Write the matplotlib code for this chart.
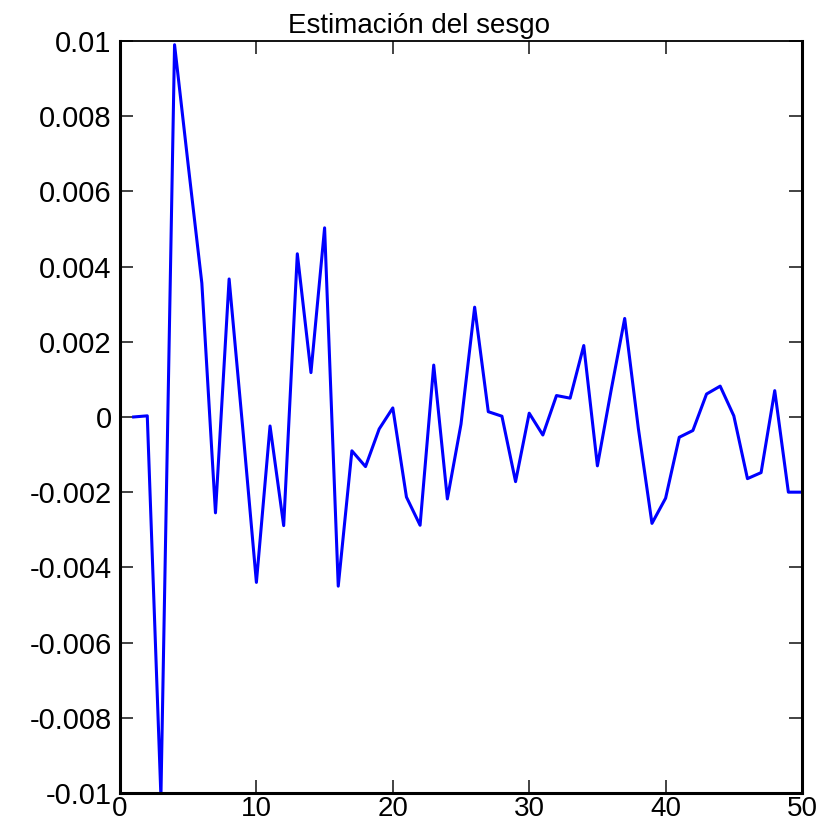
import matplotlib
matplotlib.use('Agg')
import matplotlib.pyplot as plt
from matplotlib.ticker import FixedLocator, FixedFormatter

plt.rcParams['font.family'] = ['Liberation Sans', 'DejaVu Sans']

# datos
k = list(range(1, 51))
sesgo = [0.0, 0.00003, -0.0101, 0.0099, 0.0067, 0.00356, -0.00255, 0.00367, -0.0003, -0.0044,
         -0.00024, -0.00289, 0.00434, 0.00118, 0.00503, -0.0045, -0.0009, -0.00132, -0.00032, 0.00024,
         -0.00213, -0.00288, 0.00138, -0.00218, -0.00019, 0.00292, 0.00014, 0.00002, -0.00172, 0.0001,
         -0.00048, 0.00057, 0.0005, 0.0019, -0.0013, 0.0007, 0.00262, -0.0003, -0.00283, -0.00216,
         -0.00054, -0.00036, 0.00061, 0.00082, 0.00003, -0.00164, -0.00148, 0.0007, -0.002, -0.002]

xticks = [0, 10, 20, 30, 40, 50]
yticks = [-0.01, -0.008, -0.006, -0.004, -0.002, 0, 0.002, 0.004, 0.006, 0.008, 0.01]
ytick_labels = ['-0.01', '-0.008', '-0.006', '-0.004', '-0.002', '0',
                '0.002', '0.004', '0.006', '0.008', '0.01']

fig = plt.figure(figsize=(8.23, 8.26), dpi=100)
ax = fig.add_axes([0.1458, 0.04, 0.8287, 0.9104])

ax.plot(k, sesgo, color='#0000ff', linewidth=2.2)

ax.set_xlim(0, 50)
ax.set_ylim(-0.01, 0.01)
ax.xaxis.set_major_locator(FixedLocator(xticks))
ax.yaxis.set_major_locator(FixedLocator(yticks))
ax.yaxis.set_major_formatter(FixedFormatter(ytick_labels))

ax.tick_params(direction='in', length=9.5, width=1.2, color='#222222',
               top=True, right=True, labelsize=21, pad=6)
ax.tick_params(axis='x', labelsize=20, pad=2)
for s in ax.spines.values():
    s.set_linewidth(2.2)
ax.spines['top'].set_linewidth(1.3)

ax.set_title('Estimación del sesgo', fontsize=20, pad=6, x=0.438)

plt.savefig('out.png', dpi=100, facecolor='white')
plt.close()
